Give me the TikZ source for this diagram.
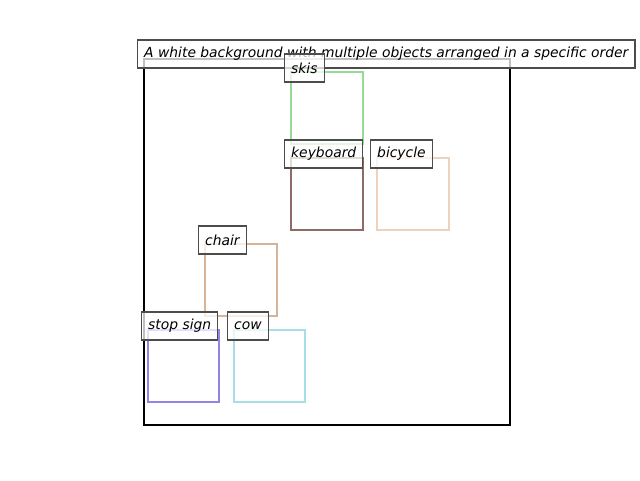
\documentclass[tikz,border=0pt]{standalone}
\usepackage{fontspec}
\setmainfont{DejaVu Sans}
\begin{document}
\begin{tikzpicture}[x=0.75pt,y=-0.75pt,
  objbox/.style={line width=1.9pt},
  lbl/.style={draw=black!70, line width=0.8pt, fill=white, fill opacity=0.75, text opacity=1,
    anchor=west, minimum height=21pt, inner xsep=5pt, inner ysep=0pt,
    font=\fontsize{10.4pt}{12pt}\selectfont\itshape}]
\useasboundingbox (0,0) rectangle (640,480);
\definecolor{cskis}{RGB}{150,218,150}
\definecolor{ckey}{RGB}{140,108,100}
\definecolor{cbike}{RGB}{238,210,188}
\definecolor{cchair}{RGB}{214,180,152}
\definecolor{cstop}{RGB}{150,130,230}
\definecolor{ccow}{RGB}{170,222,230}
% main frame
\draw[line width=1.9pt] (144,59) rectangle (510,425);
% objects
\draw[objbox,draw=cskis] (291,72) rectangle (363,144);
\draw[objbox,draw=ckey] (291,158) rectangle (363,230);
\draw[objbox,draw=cbike] (377,158) rectangle (449,230);
\draw[objbox,draw=cchair] (205,244) rectangle (277,316);
\draw[objbox,draw=cstop] (148,330) rectangle (219,402);
\draw[objbox,draw=ccow] (234,330) rectangle (305,402);
% labels
\node[lbl] (title) at (137,54) {A white background with multiple objects arranged in a specific order};
\node[lbl] (lskis) at (284,68) {skis};
\node[lbl] (lkey) at (284,154) {keyboard};
\node[lbl] (lbike) at (370,154) {bicycle};
\node[lbl] (lchair) at (198,240) {chair};
\node[lbl] (lstop) at (141,326) {stop sign};
\node[lbl] (lcow) at (227,326) {cow};
\end{tikzpicture}
\end{document}
